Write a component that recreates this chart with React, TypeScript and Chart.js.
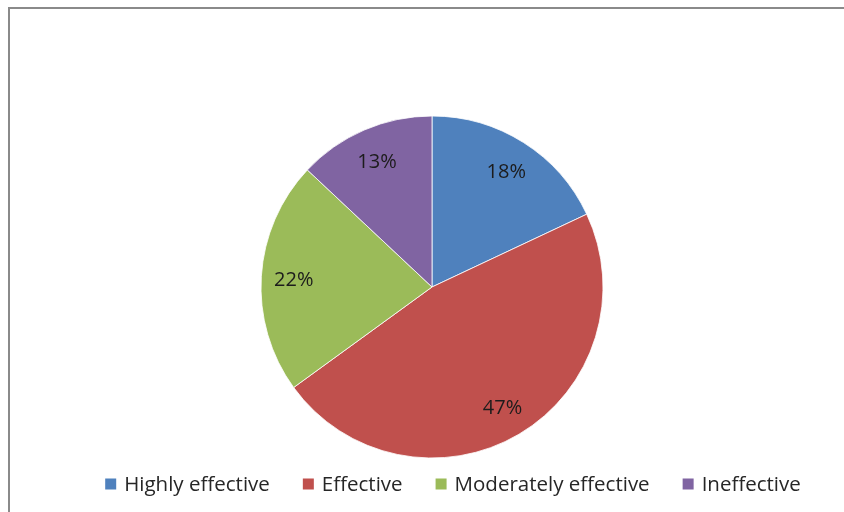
import React, { useEffect, useRef } from "react";
import { Chart, registerables } from "chart.js";

Chart.register(...registerables);

// Survey responses, share of respondents (%)
const categories = ["Highly effective", "Effective", "Moderately effective", "Ineffective"];
const shares = [18, 47, 22, 13];
const sliceColors = ["#4F81BD", "#C0504D", "#9BBB59", "#8064A2"];

const FONT = "'Open Sans', Lato, sans-serif";

// Percent labels placed along each slice's bisector
const sliceLabels = {
  id: "sliceLabels",
  afterDatasetsDraw(chart: any) {
    const { ctx } = chart;
    const meta = chart.getDatasetMeta(0);
    const values = chart.data.datasets[0].data as number[];
    ctx.save();
    ctx.font = `20px ${FONT}`;
    ctx.fillStyle = "#1c1c1c";
    ctx.textAlign = "center";
    ctx.textBaseline = "middle";
    meta.data.forEach((arc: any, i: number) => {
      const { x, y, startAngle, endAngle, outerRadius } = arc.getProps(
        ["x", "y", "startAngle", "endAngle", "outerRadius"],
        true
      );
      const mid = (startAngle + endAngle) / 2;
      const r = outerRadius * 0.81;
      ctx.fillText(`${values[i]}%`, x + Math.cos(mid) * r, y + Math.sin(mid) * r + 2);
    });
    ctx.restore();
  },
};

// Single-row legend under the pie
const bottomLegend = {
  id: "bottomLegend",
  afterDraw(chart: any) {
    const { ctx } = chart;
    const labels = chart.data.labels as string[];
    const colors = chart.data.datasets[0].backgroundColor as string[];
    const box = 11;
    const boxGap = 8;
    const itemGap = 33;
    const centerX = 453;
    const centerY = 485;
    ctx.save();
    ctx.font = `20.5px ${FONT}`;
    const widths = labels.map((l) => ctx.measureText(l).width);
    const total =
      widths.reduce((a, w) => a + box + boxGap + w, 0) + itemGap * (labels.length - 1);
    let cx = centerX - total / 2;
    ctx.textBaseline = "middle";
    ctx.textAlign = "left";
    labels.forEach((l, i) => {
      ctx.fillStyle = colors[i];
      ctx.fillRect(cx, centerY - box / 2 - 1, box, box);
      cx += box + boxGap;
      ctx.fillStyle = "#262626";
      ctx.fillText(l, cx, centerY);
      cx += widths[i] + itemGap;
    });
    ctx.restore();
  },
};

export default function App() {
  const canvasRef = useRef<HTMLCanvasElement | null>(null);

  useEffect(() => {
    const canvas = canvasRef.current;
    if (!canvas) return;
    const chart = new Chart(canvas, {
      type: "pie",
      data: {
        labels: categories,
        datasets: [
          {
            data: shares,
            backgroundColor: sliceColors,
            borderColor: "rgba(255,255,255,0.8)",
            borderWidth: 1,
            radius: 171,
          },
        ],
      },
      options: {
        responsive: false,
        animation: false,
        layout: { padding: { left: 20, right: 0, top: 62, bottom: 0 } },
        plugins: {
          legend: { display: false },
          tooltip: { enabled: false },
        },
      },
      plugins: [sliceLabels, bottomLegend],
    });
    return () => chart.destroy();
  }, []);

  return (
    <div
      style={{
        position: "absolute",
        left: 0,
        top: 0,
        width: 844,
        height: 512,
        background: "#fff",
        overflow: "hidden",
      }}
    >
      <div
        style={{
          position: "absolute",
          left: 8,
          top: 7,
          width: 900,
          height: 600,
          borderLeft: "2px solid #8a8a8a",
          borderTop: "2px solid #8a8a8a",
        }}
      />
      <canvas
        ref={canvasRef}
        width={844}
        height={512}
        style={{ position: "absolute", left: 0, top: 0, width: 844, height: 512 }}
      />
    </div>
  );
}
